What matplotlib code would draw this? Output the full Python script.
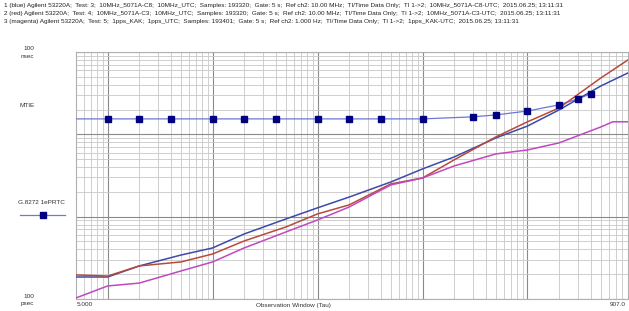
import matplotlib
matplotlib.use('Agg')
import matplotlib.pyplot as plt
from matplotlib.ticker import LogLocator, NullFormatter

plt.rcParams['font.family'] = ['Liberation Sans', 'DejaVu Sans']

# observation window tau (s)
tau = [5, 10, 20, 50, 100, 200, 500, 1000, 2000, 5000, 1e4, 2e4, 5e4, 1e5, 2e5, 5e5, 9.07e5]

# 1 (blue) 10MHz_5071A-C8-UTC
blue = [1.85e-10, 1.85e-10, 2.52e-10, 3.42e-10, 4.17e-10, 6.16e-10, 9.38e-10, 1.28e-9,
        1.73e-9, 2.64e-9, 3.80e-9, 5.31e-9, 9.04e-9, 1.26e-8, 1.98e-8, 3.87e-8, 5.57e-8]
# 2 (red) 10MHz_5071A-C3-UTC
red = [1.96e-10, 1.90e-10, 2.52e-10, 2.82e-10, 3.52e-10, 5.07e-10, 7.50e-10, 1.08e-9,
       1.39e-9, 2.50e-9, 2.95e-9, 4.89e-9, 9.30e-9, 1.42e-8, 2.09e-8, 4.84e-8, 8.02e-8]
# 3 (magenta) 1pps_KAK-UTC
mag_tau = [5, 10, 20, 50, 100, 200, 500, 1000, 2000, 5000, 1e4, 2e4, 5e4, 1e5, 2e5, 5e5, 6.5e5, 9.07e5]
magenta = [1.03e-10, 1.44e-10, 1.56e-10, 2.19e-10, 2.82e-10, 4.17e-10, 6.52e-10, 9.12e-10,
           1.31e-9, 2.43e-9, 2.95e-9, 4.13e-9, 5.78e-9, 6.46e-9, 7.87e-9, 1.23e-8, 1.42e-8, 1.42e-8]

# G.8272 1ePRTC MTIE mask
mask_tau = [5, 10, 20, 40, 100, 200, 400, 1000, 2000, 4000, 1e4, 3e4, 5e4, 1e5, 2e5, 3e5, 4e5]
mask = [1.54e-8] * 11 + [1.63e-8, 1.72e-8, 1.92e-8, 2.28e-8, 2.69e-8, 3.10e-8]

header = [
    "1 (blue) Agilent 53220A;  Test: 3;  10MHz_5071A-C8;  10MHz_UTC;  Samples: 193320;  Gate: 5 s;  Ref ch2: 10.00 MHz;  TI/Time Data Only;  TI 1->2;  10MHz_5071A-C8-UTC;  2015.06.25; 13:11:31",
    "2 (red) Agilent 53220A;  Test: 4;  10MHz_5071A-C3;  10MHz_UTC;  Samples: 193320;  Gate: 5 s;  Ref ch2: 10.00 MHz;  TI/Time Data Only;  TI 1->2;  10MHz_5071A-C3-UTC;  2015.06.25; 13:11:31",
    "3 (magenta) Agilent 53220A;  Test: 5;  1pps_KAK;  1pps_UTC;  Samples: 193401;  Gate: 5 s;  Ref ch2: 1.000 Hz;  TI/Time Data Only;  TI 1->2;  1pps_KAK-UTC;  2015.06.25; 13:11:31",
]

W, H = 629, 311
fig = plt.figure(figsize=(W / 100, H / 100), dpi=100)
ax = fig.add_axes([76 / W, 12 / H, 552 / W, 247 / H])

def px(x, y):
    return x / W, 1 - y / H

ax.set_xscale('log')
ax.set_yscale('log')
ax.set_xlim(5, 9.07e5)
ax.set_ylim(1e-10, 1e-7)

ax.xaxis.set_major_locator(LogLocator(base=10, numticks=20))
ax.xaxis.set_minor_locator(LogLocator(base=10, subs=range(2, 10), numticks=100))
ax.yaxis.set_major_locator(LogLocator(base=10, numticks=20))
ax.yaxis.set_minor_locator(LogLocator(base=10, subs=range(2, 10), numticks=100))
ax.grid(which='major', color='#8a8a8a', lw=0.8)
ax.grid(which='minor', color='#c8c8c8', lw=0.6)
ax.tick_params(which='both', length=0, labelbottom=False, labelleft=False)
ax.xaxis.set_minor_formatter(NullFormatter())
ax.yaxis.set_minor_formatter(NullFormatter())
for s in ax.spines.values():
    s.set_color('#b0b0b0')
    s.set_linewidth(0.8)

ax.plot(mask_tau, mask, color='#6a78d8', lw=0.9, zorder=3)
ax.plot(mask_tau[1:], mask[1:], ls='none', marker='s', ms=4.5, color='#000080', zorder=4)
ax.plot(tau, blue, color='#3c4aa8', lw=1.1, zorder=3)
ax.plot(tau, red, color='#b84a3a', lw=1.1, zorder=3)
ax.plot(mag_tau, magenta, color='#c048c0', lw=1.1, zorder=3)

fs = 4.6
for i, line in enumerate(header):
    fig.text(*px(4, 5 + 8 * i), line, fontsize=fs, va='center', ha='left', color='#222222')

fig.text(*px(23, 49), "100", fontsize=fs, va='center', color='#333333')
fig.text(*px(21, 56), "nsec", fontsize=fs, va='center', color='#333333')
fig.text(*px(20, 106), "MTIE", fontsize=fs, va='center', color='#333333')
fig.text(*px(18, 203), "G.8272 1ePRTC", fontsize=fs, va='center', color='#333333')
fig.lines.append(plt.Line2D([20 / W, 65 / W], [1 - 215 / H] * 2, transform=fig.transFigure,
                            color='#6a78d8', lw=0.9))
fig.lines.append(plt.Line2D([43 / W], [1 - 215 / H], transform=fig.transFigure,
                            marker='s', ms=4.5, color='#000080', ls='none'))
fig.text(*px(23, 297), "100", fontsize=fs, va='center', color='#333333')
fig.text(*px(21, 304), "psec", fontsize=fs, va='center', color='#333333')
fig.text(*px(77, 304), "5.000", fontsize=fs, va='center', color='#333333')
fig.text(*px(293, 305), "Observation Window (Tau)", fontsize=fs, va='center', ha='center', color='#333333')
fig.text(*px(610, 304), "907.0", fontsize=fs, va='center', color='#333333')

fig.savefig('out.png', dpi=100)
